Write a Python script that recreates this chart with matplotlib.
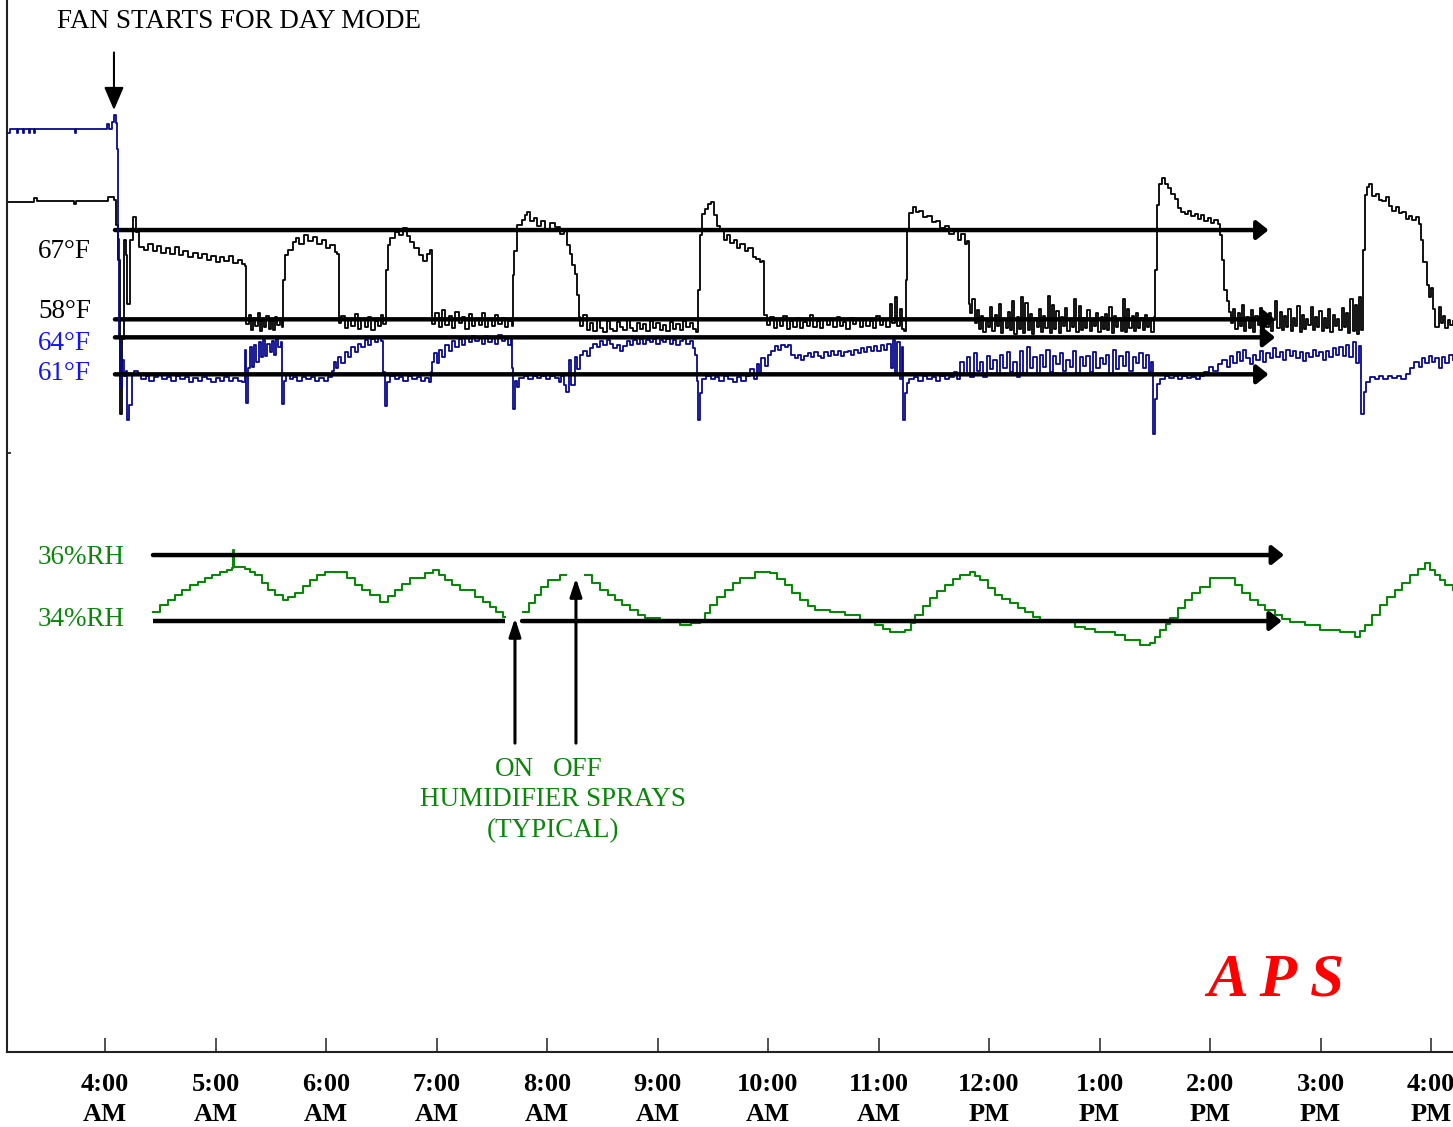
import matplotlib
matplotlib.use("Agg")
import matplotlib.pyplot as plt

plt.rcParams['font.family'] = ['Liberation Serif', 'DejaVu Serif']

# ---- data (time = hours since midnight) ----
# black trace, deg F
black_time = [
    3.113, 3.36, 3.38, 3.72, 3.74, 4.03, 4.08, 4.10, 4.118, 4.136, 4.15, 4.17, 4.19, 4.20, 4.23, 4.25, 4.28, 4.31,
    4.35, 4.39, 4.43, 4.47, 4.51, 4.55, 4.59, 4.63, 4.67, 4.71, 4.75, 4.80, 4.84, 4.88, 4.92, 4.96, 5.00, 5.04, 5.08, 5.12, 5.16, 5.20, 5.24, 5.27,
    5.28, 5.30, 5.32, 5.34, 5.36, 5.38, 5.40, 5.42, 5.44, 5.46, 5.48, 5.50, 5.52, 5.54, 5.56, 5.58, 5.60,
    5.61, 5.625, 5.66, 5.70, 5.73, 5.76, 5.80, 5.84, 5.88, 5.92, 5.96, 6.00, 6.04, 6.08, 6.10,
    6.115, 6.14, 6.17, 6.20, 6.23, 6.26, 6.29, 6.32, 6.35, 6.38, 6.41, 6.44, 6.47, 6.50, 6.52,
    6.545, 6.56, 6.58, 6.62, 6.66, 6.70, 6.73, 6.76, 6.80, 6.84, 6.88, 6.91, 6.94, 6.955,
    6.96, 6.99, 7.02, 7.05, 7.08, 7.11, 7.14, 7.17, 7.20, 7.23, 7.26, 7.29, 7.32, 7.35, 7.38, 7.41, 7.44, 7.47, 7.50, 7.53, 7.56, 7.59, 7.62, 7.65, 7.68,
    7.692, 7.70, 7.73, 7.77, 7.80, 7.82, 7.85, 7.88, 7.91, 7.95, 7.98, 8.03, 8.07, 8.12, 8.15, 8.18, 8.21, 8.23, 8.25, 8.27, 8.285,
    8.30, 8.33, 8.36, 8.39, 8.42, 8.45, 8.48, 8.51, 8.54, 8.57, 8.60, 8.63, 8.66, 8.69, 8.72, 8.75, 8.78, 8.81,
    8.84, 8.87, 8.90, 8.93, 8.96, 8.99, 9.02, 9.05, 9.08, 9.11, 9.14, 9.17, 9.20, 9.23, 9.26, 9.29, 9.32, 9.35,
    9.367, 9.38, 9.40, 9.43, 9.46, 9.48, 9.51, 9.54, 9.57, 9.60, 9.63, 9.66, 9.69, 9.72, 9.75, 9.79, 9.82, 9.86, 9.89, 9.93, 9.95,
    9.96, 9.99, 10.02, 10.05, 10.08, 10.11, 10.14, 10.17, 10.20, 10.23, 10.26, 10.29, 10.32, 10.35, 10.38, 10.41, 10.44, 10.47, 10.50,
    10.53, 10.56, 10.59, 10.62, 10.65, 10.68, 10.71, 10.74, 10.77, 10.80, 10.83, 10.86, 10.89, 10.92, 10.95, 10.98, 11.01, 11.04, 11.07,
    11.10, 11.12, 11.15, 11.17, 11.19, 11.21, 11.23,
    11.249, 11.26, 11.28, 11.31, 11.34, 11.37, 11.40, 11.44, 11.48, 11.52, 11.56, 11.60, 11.64, 11.68, 11.72, 11.75, 11.78, 11.80,
    11.815,
    11.83, 11.85, 11.87, 11.89, 11.91, 11.93, 11.95, 11.97, 11.99, 12.01,
    12.03, 12.05, 12.07, 12.09, 12.11, 12.13, 12.15, 12.17, 12.19, 12.21,
    12.23, 12.25, 12.27, 12.29, 12.31, 12.33, 12.35, 12.37, 12.39, 12.41,
    12.43, 12.45, 12.47, 12.49, 12.51, 12.53, 12.55, 12.57, 12.59, 12.61,
    12.63, 12.65, 12.67, 12.69, 12.71, 12.73, 12.75, 12.77, 12.79, 12.81,
    12.83, 12.85, 12.87, 12.89, 12.91, 12.93, 12.95, 12.97, 12.99, 13.01,
    13.03, 13.05, 13.07, 13.09, 13.11, 13.13, 13.15, 13.17, 13.19, 13.21,
    13.23, 13.25, 13.27, 13.29, 13.31, 13.33, 13.35, 13.37, 13.39, 13.41,
    13.43, 13.45, 13.47, 13.49,
    13.505, 13.52, 13.54, 13.565, 13.59, 13.62, 13.65, 13.68, 13.71, 13.74, 13.77, 13.80, 13.83,
    13.86, 13.89, 13.92, 13.95, 13.98, 14.01, 14.04, 14.07, 14.09, 14.11, 14.13, 14.15, 14.17,
    14.19, 14.21, 14.23, 14.25, 14.27, 14.29, 14.31, 14.33, 14.35, 14.37,
    14.39, 14.41, 14.43, 14.45, 14.47, 14.49, 14.51, 14.53, 14.55, 14.57,
    14.59, 14.61, 14.63, 14.65, 14.67, 14.69, 14.71, 14.73, 14.75, 14.77,
    14.79, 14.81, 14.83, 14.85, 14.87, 14.89, 14.91, 14.93, 14.95, 14.97,
    14.99, 15.01, 15.03, 15.05, 15.07, 15.09, 15.11, 15.13, 15.15, 15.17,
    15.19, 15.21, 15.23, 15.25, 15.27, 15.29, 15.31, 15.33, 15.35, 15.365,
    15.38, 15.40, 15.42, 15.44, 15.47, 15.50, 15.53, 15.56, 15.59, 15.62, 15.65, 15.68, 15.71, 15.74, 15.77, 15.80, 15.83,
    15.86, 15.89, 15.91, 15.93, 15.96, 15.98, 16.00, 16.02, 16.04, 16.07, 16.09, 16.11, 16.13, 16.15, 16.17, 16.199,
]
black_degf = [
    69.8, 70.2, 69.9, 69.6, 69.9, 70.3, 70.0, 67.5, 64.0, 48.5, 56.0, 66.0, 64.5, 59.5, 66.0, 68.3, 66.8, 65.3,
    65.0, 65.6, 64.9, 65.4, 64.7, 65.2, 64.6, 65.3, 64.5, 64.9, 64.3, 64.7, 64.2, 64.6, 64.0, 64.4, 63.8, 64.3, 63.9, 64.4, 63.7, 64.0, 63.6, 63.4,
    57.5, 58.4, 56.9, 58.1, 57.3, 58.6, 56.8, 57.9, 57.2, 58.3, 57.0, 57.8, 56.9, 58.2, 57.4, 58.0, 57.2,
    62.0, 64.5, 65.0, 65.8, 66.2, 65.6, 66.5, 65.9, 66.3, 65.6, 66.0, 65.2, 65.5, 64.8, 64.6,
    57.6, 58.3, 57.1, 58.0, 57.3, 58.5, 57.0, 57.9, 57.2, 58.2, 56.9, 57.8, 57.3, 58.4, 57.5,
    63.0, 65.5, 66.2, 66.8, 66.5, 67.2, 66.4, 65.8, 65.2, 64.5, 63.9, 64.6, 65.0, 64.8,
    57.5, 58.6, 57.2, 58.9, 57.4, 58.3, 57.1, 58.7, 57.6, 58.2, 57.0, 58.5, 57.3, 58.0, 57.4, 58.6, 57.2, 57.9, 57.3, 58.4, 57.5, 58.1, 57.2, 57.8, 57.3,
    62.5, 64.9, 67.5, 68.0, 68.5, 68.8, 67.9, 68.2, 67.4, 67.9, 67.1, 67.7, 67.3, 66.6, 66.9, 65.5, 64.6, 63.5, 62.6, 60.5, 58.2,
    57.3, 58.4, 56.9, 57.6, 56.8, 57.9, 57.1, 56.7, 57.8, 57.0, 56.8, 57.7, 57.2, 56.9, 57.9, 57.1, 56.8, 57.6,
    57.0, 57.5, 56.8, 57.8, 57.1, 57.6, 56.9, 57.4, 56.8, 57.7, 57.0, 57.5, 56.9, 57.8, 57.2, 57.6, 57.0, 56.7,
    61.0, 66.5, 68.6, 69.1, 69.6, 69.8, 68.5, 67.4, 66.9, 66.0, 66.5, 65.7, 66.0, 65.2, 65.6, 64.9, 65.2, 64.3, 64.1, 63.8, 63.9,
    58.4, 57.4, 58.2, 57.1, 57.9, 57.3, 58.3, 57.0, 57.8, 57.2, 58.1, 57.1, 57.7, 57.3, 58.4, 57.2, 57.8, 57.1, 58.0,
    57.4, 57.9, 57.2, 58.2, 57.3, 57.7, 57.0, 58.1, 57.5, 57.9, 57.2, 58.0, 57.3, 57.8, 57.1, 58.3, 57.4, 58.0, 57.2,
    59.5, 57.6, 60.2, 57.3, 59.0, 57.0, 56.8,
    62.0, 67.0, 68.7, 69.3, 68.8, 68.9, 68.3, 68.4, 67.8, 67.9, 67.2, 67.4, 66.6, 66.9, 66.0, 66.6, 65.6, 65.9,
    59.5,
    58.6, 60.0, 57.6, 58.9, 57.0, 58.3, 56.7, 58.0, 57.2, 59.2,
    56.8, 58.4, 57.3, 59.5, 56.6, 58.0, 57.1, 58.7, 56.9, 59.8,
    56.5, 58.2, 57.0, 60.3, 56.6, 59.6, 56.9, 58.5, 56.5, 58.1,
    57.2, 59.0, 56.7, 58.3, 57.1, 60.4, 56.6, 59.4, 57.0, 58.8,
    56.6, 58.2, 57.3, 59.1, 56.8, 58.0, 57.2, 60.0, 56.7, 59.3,
    56.9, 58.1, 57.1, 58.9, 56.8, 58.0, 57.3, 58.6, 56.7, 58.2,
    57.0, 58.5, 56.9, 59.2, 56.6, 58.3, 57.2, 58.0, 56.8, 60.0,
    56.7, 59.0, 57.1, 58.3, 56.8, 58.6, 57.1, 58.1, 56.9, 58.4,
    57.2, 58.0, 56.7, 58.2,
    63.0, 69.5, 71.6, 72.2, 71.6, 71.2, 70.6, 70.1, 69.2, 68.8, 68.6, 68.9, 68.4,
    68.6, 68.1, 68.5, 67.9, 68.2, 67.7, 68.0, 67.6, 66.5, 64.0, 61.0, 59.8, 58.7,
    57.6, 59.0, 57.0, 58.6, 57.3, 59.4, 56.8, 58.2, 57.1, 58.9,
    56.7, 58.3, 57.4, 59.1, 56.9, 58.0, 57.2, 58.6, 56.8, 57.9,
    59.8, 57.1, 58.7, 56.9, 58.3, 57.2, 59.0, 56.8, 58.1, 57.3,
    59.3, 56.7, 58.4, 57.0, 58.0, 57.4, 59.2, 56.9, 58.2, 57.2,
    58.8, 56.8, 58.1, 57.1, 59.0, 56.7, 58.4, 57.3, 58.0, 56.9,
    59.1, 57.2, 58.6, 56.6, 60.0, 56.8, 59.4, 56.5, 60.2, 56.9,
    65.0, 70.5, 71.3, 71.6, 70.4, 70.6, 70.0, 69.9, 70.3, 69.4, 68.9, 69.3, 68.7, 68.8, 68.1, 68.4, 68.0,
    68.3, 67.6, 66.0, 63.8, 61.5, 60.3, 61.2, 59.0, 57.2, 59.2, 57.6, 58.3, 57.1, 57.9, 57.4, 57.8,
]

# blue trace, deg F
blue_time = [
    3.113, 3.14, 3.20, 3.21, 3.26, 3.27, 3.31, 3.32, 3.36, 3.37, 3.73, 3.74, 4.00, 4.02, 4.04, 4.06, 4.08, 4.10, 4.11, 4.12, 4.13, 4.14,
    4.15, 4.17, 4.19, 4.20, 4.22, 4.24, 4.26,
    4.30, 4.33, 4.37, 4.40, 4.44, 4.48, 4.52, 4.56, 4.60, 4.64, 4.68, 4.72, 4.76, 4.80, 4.84, 4.88, 4.92, 4.96, 5.00, 5.04, 5.08, 5.12, 5.16, 5.20, 5.24,
    5.27, 5.28, 5.29, 5.31, 5.33, 5.35, 5.37, 5.39, 5.41, 5.43, 5.45, 5.47, 5.49, 5.51, 5.53, 5.55, 5.57, 5.59,
    5.60, 5.62, 5.64, 5.67, 5.70, 5.74, 5.78, 5.82, 5.86, 5.90, 5.94, 5.98, 6.02, 6.05, 6.07,
    6.09, 6.11, 6.14, 6.17, 6.20, 6.23, 6.26, 6.29, 6.32, 6.35, 6.38, 6.41, 6.44, 6.47, 6.50,
    6.515, 6.53, 6.55, 6.58, 6.62, 6.66, 6.70, 6.74, 6.78, 6.82, 6.86, 6.90, 6.93, 6.95,
    6.96, 6.98, 7.00, 7.02, 7.05, 7.08, 7.11, 7.14, 7.17, 7.20, 7.23, 7.26, 7.29, 7.32, 7.35, 7.38, 7.41, 7.44, 7.47, 7.50, 7.53, 7.56, 7.59, 7.62, 7.65, 7.67,
    7.68, 7.69, 7.71, 7.73, 7.75, 7.79, 7.83, 7.87, 7.91, 7.95, 7.99, 8.03, 8.07, 8.11, 8.13, 8.15, 8.17,
    8.20, 8.22, 8.25, 8.27,
    8.30, 8.33, 8.36, 8.39, 8.42, 8.45, 8.48, 8.51, 8.54, 8.57, 8.60, 8.63, 8.66, 8.69, 8.72, 8.75, 8.78, 8.81,
    8.84, 8.87, 8.90, 8.93, 8.96, 8.99, 9.02, 9.05, 9.08, 9.11, 9.14, 9.17, 9.20, 9.23, 9.26, 9.29, 9.32, 9.34,
    9.355, 9.365, 9.38, 9.40, 9.44, 9.48, 9.52, 9.56, 9.60, 9.64, 9.68, 9.72, 9.76, 9.80, 9.84, 9.87, 9.90, 9.92,
    9.94, 9.97, 10.00, 10.03, 10.06, 10.09, 10.12, 10.15, 10.18, 10.21,
    10.24, 10.27, 10.30, 10.33, 10.36, 10.39, 10.42, 10.45, 10.48, 10.51,
    10.54, 10.57, 10.60, 10.63, 10.66, 10.69, 10.72, 10.75, 10.78, 10.81,
    10.84, 10.87, 10.90, 10.93, 10.96, 10.99, 11.02, 11.05, 11.08,
    11.11, 11.13, 11.15, 11.17, 11.19, 11.21,
    11.225, 11.24, 11.26, 11.28, 11.32, 11.36, 11.40, 11.44, 11.48, 11.52, 11.56, 11.60, 11.64,
    11.68, 11.71, 11.74, 11.77, 11.80, 11.83, 11.86, 11.89, 11.92, 11.95,
    11.98, 12.01, 12.04, 12.07, 12.10, 12.13, 12.16, 12.19, 12.22, 12.25,
    12.28, 12.31, 12.34, 12.37, 12.40, 12.43, 12.46, 12.49, 12.52, 12.55,
    12.58, 12.61, 12.64, 12.67, 12.70, 12.73, 12.76, 12.79, 12.82, 12.85,
    12.88, 12.91, 12.94, 12.97, 13.00, 13.03, 13.06, 13.09, 13.12, 13.15,
    13.18, 13.21, 13.24, 13.27, 13.30, 13.33, 13.36, 13.39, 13.42, 13.45,
    13.47,
    13.48, 13.50, 13.52, 13.55, 13.59, 13.63, 13.67, 13.71, 13.75, 13.79, 13.83, 13.87, 13.91,
    13.95, 13.99, 14.03, 14.07, 14.11, 14.15,
    14.18, 14.21, 14.24, 14.27, 14.30, 14.33, 14.36, 14.39, 14.42, 14.45,
    14.48, 14.51, 14.54, 14.57, 14.60, 14.63, 14.66, 14.69, 14.72, 14.75,
    14.78, 14.81, 14.84, 14.87, 14.90, 14.93, 14.96, 14.99, 15.02, 15.05,
    15.08, 15.11, 15.14, 15.17, 15.20, 15.23, 15.26, 15.29, 15.32, 15.35,
    15.37, 15.39, 15.41, 15.45, 15.49, 15.53, 15.57, 15.61, 15.65, 15.69, 15.73, 15.77, 15.81,
    15.85, 15.89, 15.92, 15.95, 15.98, 16.01, 16.04, 16.07, 16.10, 16.13, 16.16, 16.199,
]
blue_degf = [
    80.6, 80.9, 80.6, 80.9, 80.6, 80.9, 80.6, 80.9, 80.6, 80.9, 80.6, 80.9, 80.9, 81.3, 80.9, 81.5, 82.0, 81.4, 79.3, 72.0, 64.0, 60.0,
    62.2, 60.9, 61.3, 57.3, 58.5, 61.0, 61.3,
    61.0, 60.6, 60.9, 60.5, 60.8, 61.0, 60.6, 60.8, 60.5, 60.9, 60.6, 60.8, 60.4, 60.7, 60.5, 60.8, 60.6, 60.4, 60.7, 60.5, 60.8, 60.5, 60.7, 60.5, 60.4,
    63.0, 58.7, 61.5, 63.2, 61.6, 63.4, 62.0, 63.6, 62.4, 63.8, 62.5, 63.5, 62.8, 63.7, 62.6, 63.9, 63.2, 63.6,
    58.6, 60.5, 61.0, 60.6, 60.8, 60.5, 60.8, 60.6, 60.8, 60.5, 60.7, 60.5, 60.8, 61.3, 62.0,
    61.5, 62.4, 61.9, 62.8, 62.4, 63.2, 62.8, 63.5, 63.2, 63.8, 63.4, 63.9, 63.6, 64.0, 63.7,
    61.2, 58.4, 60.4, 60.9, 60.6, 60.8, 60.5, 60.9, 60.6, 60.8, 60.5, 60.7, 60.4, 61.2,
    62.0, 62.7, 61.9, 63.0, 62.4, 63.4, 62.9, 63.7, 63.2, 63.9, 63.4, 64.0, 63.6, 64.1, 63.7, 64.0, 63.5, 64.1, 63.6, 64.0, 63.5, 64.2, 63.7, 63.9, 63.4, 63.9,
    61.5, 58.2, 60.5, 60.0, 60.7, 60.9, 60.6, 60.9, 60.7, 60.9, 60.6, 60.9, 60.7, 60.4, 60.9, 60.1, 59.6,
    62.2, 60.1, 62.4, 61.4,
    62.6, 62.9, 62.5, 63.1, 63.5, 63.2, 63.7, 63.4, 63.8, 63.5, 63.1, 63.4, 62.9, 63.3, 63.7, 63.4, 63.8, 63.5,
    63.9, 63.5, 63.8, 63.6, 63.9, 63.5, 63.8, 63.6, 63.9, 63.5, 63.8, 63.4, 63.7, 63.9, 63.5, 63.7, 63.1, 62.6,
    60.5, 57.3, 59.5, 60.6, 60.9, 60.6, 60.8, 60.5, 60.9, 60.6, 60.4, 60.8, 60.5, 60.9, 61.4, 60.6, 61.8, 61.0,
    62.3, 61.7, 62.6, 62.9, 63.3, 63.0, 63.4, 63.2, 63.4, 62.6,
    62.3, 62.6, 62.2, 62.5, 62.7, 62.4, 62.8, 62.5, 62.3, 62.8,
    62.5, 62.9, 62.6, 62.9, 62.5, 62.8, 62.9, 62.6, 63.0, 62.7,
    63.1, 62.8, 63.2, 62.9, 63.3, 62.9, 63.4, 63.0, 63.5,
    61.5, 63.8, 61.0, 63.6, 60.6, 63.2,
    57.3, 59.5, 60.3, 60.6, 60.8, 60.5, 60.9, 60.6, 60.8, 60.5, 60.9, 60.6, 60.8,
    61.2, 60.6, 62.0, 61.0, 62.4, 60.8, 62.7, 61.3, 62.0, 60.8,
    62.5, 61.4, 62.2, 61.0, 62.6, 61.5, 62.8, 61.2, 62.0, 60.8,
    62.9, 61.1, 63.2, 61.5, 62.4, 61.0, 62.6, 61.6, 63.0, 61.2,
    62.5, 61.8, 62.7, 61.3, 62.2, 61.6, 62.9, 61.1, 62.4, 61.7,
    62.5, 61.2, 62.8, 61.5, 62.3, 61.8, 62.6, 61.0, 63.0, 61.4,
    62.5, 61.7, 62.8, 61.3, 62.4, 61.9, 62.7, 61.5, 62.6, 61.2,
    62.0,
    56.2, 59.0, 60.2, 60.6, 60.9, 60.7, 60.9, 60.6, 60.9, 60.7, 60.8, 60.6, 60.9,
    61.2, 61.6, 61.3, 61.8, 62.2, 61.6,
    62.5, 61.9, 62.8, 62.1, 63.0, 62.3, 61.8, 62.6, 62.2, 62.9,
    62.0, 62.7, 62.3, 63.1, 62.4, 62.8, 62.2, 63.0, 62.5, 62.9,
    62.3, 62.8, 62.1, 62.7, 62.4, 63.0, 62.5, 62.8, 62.2, 62.9,
    62.4, 63.1, 62.6, 63.2, 62.5, 63.4, 62.4, 63.6, 61.9, 63.3,
    57.8, 59.6, 60.4, 60.8, 60.6, 60.9, 60.6, 60.9, 60.7, 60.9, 60.6, 61.0, 61.5,
    62.0, 61.6, 62.3, 61.9, 62.5, 62.0, 62.3, 61.5, 62.4, 61.9, 62.6, 62.2,
]

# green trace, % RH (nan = gaps at the spray arrows)
nan = float('nan')
rh_time = [
    4.434, 4.498, 4.57, 4.633, 4.70, 4.769, 4.84, 4.905, 4.97, 5.041,
    5.10, 5.149, 5.158, 5.165, 5.267, 5.31, 5.357, 5.42, 5.475, 5.54,
    5.611, 5.66, 5.719, 5.79, 5.855, 5.92, 5.991, 6.127, 6.19, 6.262,
    6.33, 6.398, 6.489, 6.56, 6.624, 6.69, 6.760, 6.896, 6.968, 7.02,
    7.077, 7.14, 7.213, 7.348, 7.42, 7.484, 7.54, 7.602, 7.62, 7.783,
    7.84, 7.891, 7.95, 8.009, 8.118, 8.17, 8.344, 8.41, 8.480, 8.55,
    8.615, 8.68, 8.751, 8.82, 8.887, 9.023, 9.204, 9.300, 9.385, 9.43,
    9.475, 9.54, 9.611, 9.68, 9.747, 9.882, 10.018, 10.08, 10.154, 10.22,
    10.290, 10.36, 10.425, 10.561, 10.697, 10.833, 10.968, 11.04, 11.104, 11.240,
    11.29, 11.330, 11.40, 11.466, 11.53, 11.602, 11.67, 11.738, 11.828, 11.87,
    11.919, 11.99, 12.054, 12.12, 12.190, 12.26, 12.326, 12.40, 12.462, 12.643,
    12.778, 12.87, 12.959, 13.140, 13.231, 13.367, 13.457, 13.50, 13.548, 13.60,
    13.638, 13.71, 13.774, 13.84, 13.910, 14.0, 14.136, 14.226, 14.29, 14.362,
    14.43, 14.498, 14.588, 14.65, 14.724, 14.860, 14.995, 15.176, 15.312, 15.36,
    15.403, 15.47, 15.538, 15.60, 15.674, 15.74, 15.810, 15.88, 15.946, 15.99,
    16.036, 16.08, 16.127, 16.199,
]
rh_pct = [
    34.27, 34.48, 34.64, 34.79, 34.94, 35.09, 35.18, 35.30, 35.39, 35.48,
    35.55, 35.61, 36.15, 35.64, 35.58, 35.48, 35.39, 35.15, 34.94, 34.79,
    34.64, 34.73, 34.85, 35.06, 35.24, 35.39, 35.48, 35.48, 35.30, 35.09,
    34.94, 34.79, 34.58, 34.76, 34.94, 35.12, 35.30, 35.45, 35.55, 35.39,
    35.24, 35.09, 34.94, 34.73, 34.58, 34.42, 34.27, 34.12, nan, 34.27,
    34.55, 34.79, 35.03, 35.24, 35.39, nan, 35.39, 35.15, 34.94, 34.79,
    34.64, 34.48, 34.33, 34.18, 34.09, 34.03, 33.88, 33.95, 33.97, 34.24,
    34.48, 34.73, 34.94, 35.15, 35.30, 35.48, 35.45, 35.27, 35.09, 34.85,
    34.64, 34.45, 34.33, 34.27, 34.18, 34.03, 33.88, 33.76, 33.67, 33.73,
    33.94, 34.18, 34.45, 34.70, 34.91, 35.09, 35.27, 35.39, 35.48, 35.36,
    35.24, 35.00, 34.79, 34.67, 34.55, 34.39, 34.27, 34.12, 34.03, 33.97,
    33.82, 33.76, 33.67, 33.58, 33.42, 33.27, 33.33, 33.52, 33.73, 33.91,
    34.09, 34.39, 34.64, 34.85, 35.03, 35.30, 35.30, 35.09, 34.85, 34.64,
    34.48, 34.33, 34.18, 34.06, 33.97, 33.88, 33.73, 33.67, 33.52, 33.70,
    33.88, 34.18, 34.48, 34.73, 34.94, 35.15, 35.39, 35.58, 35.76, 35.55,
    35.39, 35.24, 35.09, 34.94,
]

hour_ticks = [4, 5, 6, 7, 8, 9, 10, 11, 12, 13, 14, 15, 16]
hour_labels = ['4:00\nAM', '5:00\nAM', '6:00\nAM', '7:00\nAM', '8:00\nAM', '9:00\nAM',
               '10:00\nAM', '11:00\nAM', '12:00\nPM', '1:00\nPM', '2:00\nPM', '3:00\nPM', '4:00\nPM']

black_levels = [67, 58]
blue_levels = [64, 61]
rh_levels = [36, 34]
spray_on, spray_off = 7.71, 8.262

W, H = 1453, 1127
GREEN = '#0a870a'
BLUE_TXT = '#1414f0'
FS = 19.5


def fpos(x, y):
    return x / W, 1 - y / H


fig = plt.figure(figsize=(W / 100, H / 100), dpi=100)
ax = fig.add_axes([7 / W, 1 - 1052 / H, 1 - 7 / W, 1052 / H])
ax.set_xlim(3.113, 16.199)
ax.set_ylim(-15.86, 90.19)
ax_b = ax.twinx()
ax_b.set_ylim(6.04, 91.36)
ax_g = ax.twinx()
ax_g.set_ylim(20.94, 52.82)
for a in (ax_b, ax_g):
    a.axis('off')

for s in ('top', 'right'):
    ax.spines[s].set_visible(False)
for s in ('left', 'bottom'):
    ax.spines[s].set_linewidth(1.5)
    ax.spines[s].set_color('#222222')

ax.set_xticks(hour_ticks)
ax.set_xticklabels(hour_labels, fontweight='bold', fontsize=19, linespacing=1.38)
ax.tick_params(axis='x', direction='in', length=10, width=1.1, pad=15, colors='#222222')
ax.tick_params(axis='x', labelcolor='black')
ax.set_yticks([44.5])
ax.set_yticklabels([])
ax.tick_params(axis='y', direction='in', length=3, width=1.1)

ax.plot(black_time, black_degf, color='black', lw=1.3, drawstyle='steps-post')
ax_b.plot(blue_time, blue_degf, color='#08088c', lw=1.3, drawstyle='steps-post')
ax_g.plot(rh_time, rh_pct, color=GREEN, lw=1.5, drawstyle='steps-post')

arrow_kw = dict(arrowstyle='-|>,head_length=0.35,head_width=0.28', lw=3.2, color='black',
                shrinkA=0, shrinkB=0, mutation_scale=20)


def level_arrow(a, t0, t1, y):
    a.annotate('', xy=(t1, y), xytext=(t0, y), arrowprops=arrow_kw)


level_arrow(ax, 4.09, 14.53, black_levels[0])
level_arrow(ax, 4.09, 14.59, black_levels[1])
level_arrow(ax_b, 4.09, 14.59, blue_levels[0])
level_arrow(ax_b, 4.09, 14.53, blue_levels[1])
level_arrow(ax_g, 4.434, 14.67, rh_levels[0])
ax_g.plot([4.434, 7.62], [rh_levels[1]] * 2, color='black', lw=3.2, solid_capstyle='butt', zorder=3)
level_arrow(ax_g, 7.774, 14.65, rh_levels[1])

# fan start marker
ax.annotate('', xy=(4.081, 79.1), xytext=(4.081, 84.9),
            arrowprops=dict(arrowstyle='-|>,head_length=0.7,head_width=0.3', lw=1.5, color='black',
                            shrinkA=0, shrinkB=0, mutation_scale=20))
# humidifier on / off markers
for t, top in ((spray_on, 34.09), (spray_off, 35.30)):
    ax_g.annotate('', xy=(t, top), xytext=(t, 30.30),
                  arrowprops=dict(arrowstyle='-|>,head_length=0.55,head_width=0.18', lw=2.2, color='black',
                                  shrinkA=0, shrinkB=0, mutation_scale=20))

fig.text(*fpos(57, 22), 'FAN STARTS FOR DAY MODE', fontsize=FS, va='center', ha='left')
fig.text(*fpos(38, 251), '67°F', fontsize=FS, va='center')
fig.text(*fpos(38, 312), '58°F', fontsize=FS, va='center')
fig.text(*fpos(38, 343), '64°F', fontsize=FS, va='center', color=BLUE_TXT)
fig.text(*fpos(38, 374), '61°F', fontsize=FS, va='center', color=BLUE_TXT)
fig.text(*fpos(38, 558), '36%RH', fontsize=FS, va='center', color=GREEN)
fig.text(*fpos(38, 620), '34%RH', fontsize=FS, va='center', color=GREEN)
fig.text(*fpos(514, 769), 'ON', fontsize=FS, va='center', ha='center', color=GREEN)
fig.text(*fpos(578, 769), 'OFF', fontsize=FS, va='center', ha='center', color=GREEN)
fig.text(*fpos(553, 800), 'HUMIDIFIER SPRAYS', fontsize=FS, va='center', ha='center', color=GREEN)
fig.text(*fpos(553, 831), '(TYPICAL)', fontsize=FS, va='center', ha='center', color=GREEN)
fig.text(*fpos(1276, 981), 'A P S', fontsize=44, va='center', ha='center', color='#ff0000',
         fontweight='bold', fontstyle='italic')

fig.savefig('out.png', dpi=100)
